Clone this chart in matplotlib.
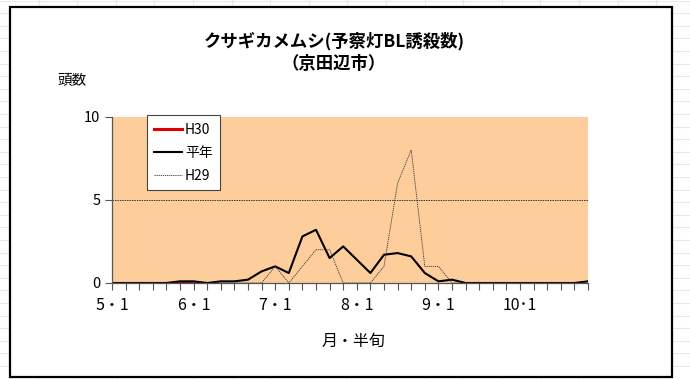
import matplotlib
matplotlib.use('Agg')
from matplotlib import pyplot as plt
from matplotlib.patches import Rectangle
from matplotlib.lines import Line2D

plt.rcParams['font.family'] = ['Noto Sans CJK JP', 'DejaVu Sans']

# 半旬 (5/1 ～ 10/6)
periods = list(range(36))
month_labels = ['5・1', '6・1', '7・1', '8・1', '9・1', '10･1']

h30 = [0, 0, 0, 0, 0, 0, 0, 0]
heinen = [0, 0, 0, 0, 0, 0.1, 0.1, 0, 0.1, 0.1, 0.2, 0.7, 1.0, 0.6, 2.8, 3.2, 1.5, 2.2,
          1.4, 0.6, 1.7, 1.8, 1.6, 0.6, 0.1, 0.2, 0, 0, 0, 0, 0, 0, 0, 0, 0, 0.1]
h29 = [0, 0, 0, 0, 0, 0, 0, 0, 0, 0, 0, 0, 1, 0, 1, 2, 2, 0,
       0, 0, 1, 6, 8, 1, 1, 0, 0, 0, 0, 0, 0, 0, 0, 0, 0, 0]

W, H = 690, 379
fig = plt.figure(figsize=(W / 100, H / 100), dpi=100)
fig.patch.set_facecolor('white')

# シートの枠線（背景）
k = 0
while 0.6 + 12.6 * k < H:
    y = 1 - (0.6 + 12.6 * k) / H
    fig.add_artist(Line2D([0, 1], [y, y], transform=fig.transFigure, color='#e8e8e8', lw=0.8, zorder=-3))
    k += 1
for k in range(1, 19):
    x = 38.6 * k / W
    fig.add_artist(Line2D([x, x], [0, 1], transform=fig.transFigure, color='#e8e8e8', lw=0.8, zorder=-3))

# グラフエリア
fig.add_artist(Rectangle((10 / W, 1 - 377 / H), 662 / W, 370 / H, transform=fig.transFigure,
                         facecolor='white', edgecolor='black', lw=1.6, zorder=-1))

ax = fig.add_axes([112 / W, 1 - 283 / H, 476 / W, (283 - 116.7) / H])
ax.set_facecolor('#fdcd9c')

ax.axhline(5, color='#333333', lw=0.7, ls=(0, (1.5, 1)), zorder=1)

ax.plot(periods[:len(h30)], h30, color='#e00000', lw=2.2, label='H30', zorder=2)
ax.plot(periods, heinen, color='black', lw=1.5, label='平年', zorder=2.2)
ax.plot(periods, h29, color='#333333', lw=0.6, ls=(0, (1.5, 1)), label='H29', zorder=2.4)

ax.set_xlim(0, 35)
ax.set_ylim(0, 10)
ax.set_yticks([0, 5, 10])
ax.set_xticks(periods)
ax.set_xticklabels([month_labels[i // 6] if i % 6 == 0 else '' for i in periods])
ax.tick_params(axis='both', direction='out', length=5, width=0.8, color='#555555', labelsize=10.5)
ax.tick_params(axis='x', pad=5, labelsize=11.5)
for s in ['top', 'right']:
    ax.spines[s].set_visible(False)
for s in ['left', 'bottom']:
    ax.spines[s].set_color('#555555')
    ax.spines[s].set_linewidth(0.9)
    ax.spines[s].set_zorder(3)

leg = ax.legend(loc='upper left', bbox_to_anchor=(146.7 / W, 1 - 115 / H), bbox_transform=fig.transFigure,
                borderaxespad=0, fontsize=10, frameon=True, fancybox=False, handlelength=2.0,
                handletextpad=0.2, labelspacing=0.65, borderpad=0.55)
leg.get_frame().set_edgecolor('#444444')
leg.get_frame().set_linewidth(0.8)
leg.get_frame().set_alpha(1)

fig.text(334 / W, 1 - 41 / H, 'クサギカメムシ(予察灯BL誘殺数)', ha='center', va='center',
         fontsize=12.5, fontweight='bold')
fig.text(334 / W, 1 - 64 / H, '（京田辺市）', ha='center', va='center', fontsize=12.5, fontweight='bold')
fig.text(72 / W, 1 - 80 / H, '頭数', ha='center', va='center', fontsize=10.5)
fig.text(354 / W, 1 - 341 / H, '月・半旬', ha='center', va='center', fontsize=11.5)

fig.savefig('out.png', dpi=100)
